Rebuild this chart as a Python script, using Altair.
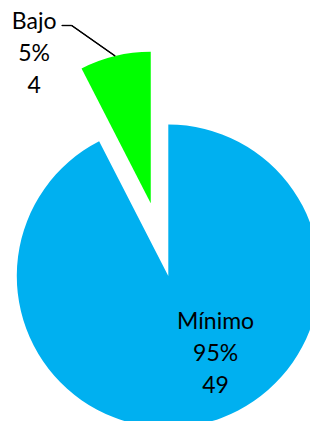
import math
import altair as alt
import pandas as pd

# ---- data ----
categories = ["Mínimo", "Bajo"]
counts = [49, 4]
percent_labels = ["95%", "5%"]
slice_order = [0, 1]
colors = ["#00B0F0", "#00FF00"]

total = sum(counts)
df = pd.DataFrame({
    "category": categories,
    "count": counts,
    "pct": percent_labels,
    "order": slice_order,
})
df["label"] = df["category"] + "\n" + df["pct"] + "\n" + df["count"].astype(str)

# ---- layout ----
W, H = 302, 413
CX, CY = 160.3, 268.0
R = 151.5
EXPLODE = 74.8
FONT = "Lato"
FS = 23
LH = 32

# explode direction of "Bajo" from its mid angle (derived from data)
bajo_start = sum(counts[:1])
bajo_mid = (bajo_start + counts[1] / 2) / total * 2 * math.pi
EX = EXPLODE * math.sin(bajo_mid)
EY = -EXPLODE * math.cos(bajo_mid)
GX, GY = CX + EX, CY + EY

theta_scale = alt.Scale(domain=[0, total], range=[0, 2 * math.pi])
color_scale = alt.Scale(domain=categories, range=colors)

base = alt.Chart(df).transform_window(
    cum="sum(count)", sort=[alt.SortField("order")], frame=[None, 0]
).transform_calculate(
    start="datum.cum - datum.count",
    mid="datum.cum - datum.count / 2",
)

def arc_layer(cat, x, y):
    return base.transform_filter(alt.datum.category == cat).mark_arc(
        outerRadius=R, strokeWidth=0
    ).encode(
        theta=alt.Theta("start:Q", scale=theta_scale),
        theta2="cum:Q",
        color=alt.Color("category:N", scale=color_scale, legend=None),
        x=alt.value(x),
        y=alt.value(y),
    )

def text_layer(cat, x, y, r, dx, dy):
    return base.transform_filter(alt.datum.category == cat).mark_text(
        lineBreak="\n", lineHeight=LH, font=FONT, fontSize=FS,
        align="center", baseline="middle", color="#000000", dx=dx, dy=dy,
    ).encode(
        theta=alt.Theta("mid:Q", scale=theta_scale),
        radius=alt.value(r),
        text="label:N",
        x=alt.value(x),
        y=alt.value(y),
    )

blue = arc_layer("Mínimo", CX, CY)
green = arc_layer("Bajo", GX, GY)
t_blue = text_layer("Mínimo", CX, CY, 95, 25.0, -46.0)
t_green = text_layer("Bajo", GX, GY, 160, -79, -26.0)

# leader line from the "Bajo" label to the outer edge of its slice
end_x = GX + R * math.sin(bajo_mid)
end_y = GY - R * math.cos(bajo_mid)
elbow_x, elbow_y = 63.7, 17.5
start_x = 53.7
lead1 = alt.Chart(df).mark_rule(color="#000000", strokeWidth=1.2).encode(
    x=alt.value(start_x), x2=alt.value(elbow_x),
    y=alt.value(elbow_y), y2=alt.value(elbow_y),
)
lead2 = alt.Chart(df).mark_rule(color="#000000", strokeWidth=1.2).encode(
    x=alt.value(elbow_x), x2=alt.value(end_x),
    y=alt.value(elbow_y), y2=alt.value(end_y),
)

chart = alt.layer(blue, green, t_blue, t_green, lead1, lead2).properties(
    width=W, height=H,
    autosize=alt.AutoSizeParams(type="none"),
    padding=0,
).configure_view(stroke=None)

chart.save("out.html", embed_options={"renderer": "svg", "actions": False})
